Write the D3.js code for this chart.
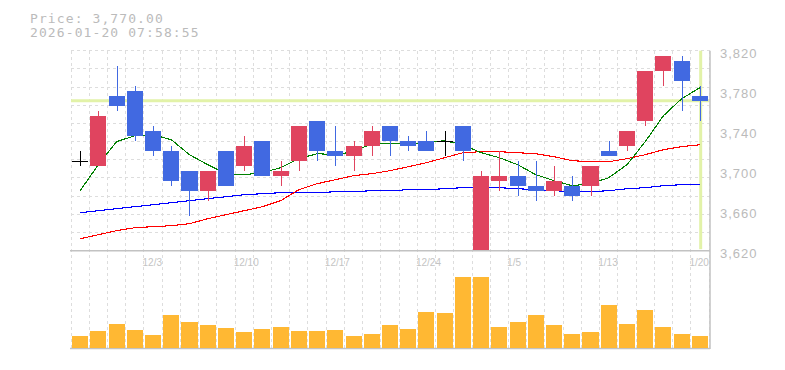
<!DOCTYPE html>
<html>
<head>
<meta charset="utf-8">
<script src="https://cdn.jsdelivr.net/npm/d3@7"></script>
<style>
  body { margin: 0; background: #fff; }
  svg { display: block; font-family: "DejaVu Sans Mono", monospace; }
</style>
</head>
<body>
<svg id="chart" width="785" height="370"></svg>
<script>
// trading days shown on the chart
const dates = ["11/27","11/28","12/1","12/2","12/3","12/4","12/5","12/8","12/9","12/10",
  "12/11","12/12","12/15","12/16","12/17","12/18","12/19","12/22","12/23","12/24",
  "12/25","12/26","12/29","12/30","1/5","1/6","1/7","1/8","1/9","1/13",
  "1/14","1/15","1/16","1/19","1/20"];

const openPrices  = [3710,3705,3775,3780,3740,3720,3700,3680,3720,3705,3730,3695,3710,3750,3720,3715,3725,3745,3730,3730,3730,3745,3610,3690,3695,3685,3680,3685,3685,3720,3725,3750,3800,3810,3775];
const highPrices  = [3720,3760,3805,3785,3745,3725,3700,3700,3720,3735,3730,3710,3745,3750,3745,3730,3745,3745,3735,3740,3740,3745,3700,3720,3710,3710,3705,3695,3705,3730,3740,3800,3815,3815,3785];
const lowPrices   = [3705,3705,3760,3730,3715,3685,3655,3670,3685,3700,3695,3685,3700,3710,3705,3700,3715,3715,3720,3720,3715,3710,3605,3680,3675,3670,3675,3670,3675,3715,3720,3745,3785,3760,3750];
const closePrices = [3710,3755,3765,3735,3720,3690,3680,3700,3685,3725,3695,3700,3745,3720,3715,3725,3740,3730,3725,3720,3730,3720,3695,3695,3685,3680,3690,3675,3705,3715,3740,3800,3815,3790,3770];

// moving averages (short / mid / long)
const ma5  = [3680,3706,3729,3735,3736,3731,3716,3706,3697,3696,3698,3703,3712,3717,3716,3719,3727,3727,3727,3728,3730,3726,3718,3713,3706,3696,3690,3685,3687,3693,3706,3729,3755,3772,3783];
const ma25 = [3632,3636,3640,3643,3644,3645,3647,3652,3656,3660,3664,3670,3681,3687,3691,3695,3697,3700,3704,3708,3713,3718,3719,3719,3718,3717,3714,3710,3709,3709,3712,3716,3721,3724,3726];
const ma75 = [3658,3660,3662,3664,3666,3668,3670,3672,3674,3676,3677,3678,3678,3678,3679,3679,3680,3680,3681,3681,3682,3683,3683,3683,3682,3681,3680,3679,3679,3680,3682,3683,3685,3686,3686];

const volumes = [12,17,24,18,13,33,26,23,20,16,19,21,17,17,18,12,14,23,19,36,35,71,71,21,26,33,23,14,16,43,24,38,21,14,12];

const priceTicks = [3620,3660,3700,3740,3780,3820];
const dateTicks = ["12/3","12/10","12/17","12/24","1/5","1/13","1/20"];
const lastPrice = 3770;
const stamp = "2026-01-20 07:58:55";

const left = 71, right = 709;
const priceTop = 50.7, priceBottom = 250.7;
const volTop = 262, volBottom = 348;

const svg = d3.select("#chart");

const xScale = d3.scaleBand()
  .domain(dates)
  .range([left, right])
  .paddingInner(0.12)
  .paddingOuter(0.06);
const bw = xScale.bandwidth();
const step = xScale.step();
const cx = d => xScale(d) + bw / 2;

const yScale = d3.scaleLinear().domain([3620, 3820]).range([priceBottom, priceTop]);
const vScale = d3.scaleLinear().domain([0, 86]).range([volBottom, volTop]);

// title text top left
const title = svg.append("g").attr("fill", "#bbb").style("font-size", "13px").style("letter-spacing", "1.1px");
title.append("text").attr("x", 30).attr("y", 22.7).text("Price: " + d3.format(",.2f")(lastPrice));
title.append("text").attr("x", 30).attr("y", 37.4).text(stamp);

// grid - square-ish dashed grid, 11 rows in price panel
const grid = svg.append("g").attr("stroke", "#ddd").attr("stroke-dasharray", "3,3").attr("shape-rendering", "crispEdges");
d3.range(0, 11).forEach(k => {
  const y = yScale(3820 - k * 200 / 11);
  grid.append("line").attr("x1", left).attr("x2", right + 1).attr("y1", y).attr("y2", y);
});
dates.forEach(d => {
  const x = cx(d) - step / 2;
  grid.append("line").attr("x1", x).attr("x2", x).attr("y1", priceTop).attr("y2", volBottom);
});
grid.append("line").attr("x1", cx(dates[dates.length - 1]) + step / 2).attr("x2", cx(dates[dates.length - 1]) + step / 2)
  .attr("y1", priceTop).attr("y2", volBottom);

// current price line + marker for last day
svg.append("line")
  .attr("x1", left).attr("x2", right).attr("y1", yScale(lastPrice)).attr("y2", yScale(lastPrice))
  .attr("stroke", "#e2f2a8").attr("stroke-width", 3);
svg.append("line")
  .attr("x1", cx(dates[dates.length - 1]) + 0.8).attr("x2", cx(dates[dates.length - 1]) + 0.8)
  .attr("y1", priceTop).attr("y2", priceBottom - 1.5)
  .attr("stroke", "#e2f2a8").attr("stroke-width", 3);

svg.append("clipPath").attr("id", "priceClip")
  .append("rect").attr("x", left).attr("y", priceTop).attr("width", right - left).attr("height", priceBottom - priceTop);
const plot = svg.append("g").attr("clip-path", "url(#priceClip)");

// moving averages (drawn under candles)
const maLine = d3.line().x((v, i) => cx(dates[i])).y(v => yScale(v));
[[ma75, "#0000ff"], [ma25, "#ff0000"], [ma5, "#008000"]].forEach(([arr, col]) => {
  plot.append("path").datum(arr).attr("d", maLine).attr("fill", "none").attr("stroke", col)
    .attr("stroke-width", 1.1).attr("shape-rendering", "crispEdges");
});

// candles
const upCol = "#e0445f", downCol = "#4169e1";
const colorOf = i => closePrices[i] > openPrices[i] ? upCol : (closePrices[i] < openPrices[i] ? downCol : "#000");

const candles = plot.selectAll(".candle")
  .data(dates)
  .join("g")
  .attr("class", "candle")
  .attr("shape-rendering", "crispEdges");

candles.append("line")
  .attr("x1", d => Math.round(cx(d)) + 0.5).attr("x2", d => Math.round(cx(d)) + 0.5)
  .attr("y1", (d, i) => yScale(highPrices[i])).attr("y2", (d, i) => yScale(lowPrices[i]))
  .attr("stroke", (d, i) => colorOf(i));

candles.append("rect")
  .attr("x", d => xScale(d))
  .attr("width", bw)
  .attr("y", (d, i) => yScale(Math.max(openPrices[i], closePrices[i])))
  .attr("height", (d, i) => Math.max(1.5, Math.abs(yScale(openPrices[i]) - yScale(closePrices[i]))))
  .attr("fill", (d, i) => colorOf(i));

// axes lines
const axisCol = "#c2c2c2";
svg.append("line").attr("x1", left - 1).attr("x2", right + 1).attr("y1", priceBottom).attr("y2", priceBottom).attr("stroke", axisCol).attr("stroke-width", 1.5);
svg.append("line").attr("x1", left - 1).attr("x2", right + 1).attr("y1", volBottom + 0.5).attr("y2", volBottom + 0.5).attr("stroke", axisCol).attr("stroke-width", 1.5);
svg.append("line").attr("x1", right + 1).attr("x2", right + 1).attr("y1", priceTop).attr("y2", volBottom + 1).attr("stroke", axisCol).attr("stroke-width", 1.5);

// volume bars
svg.selectAll(".vol")
  .data(volumes)
  .join("rect")
  .attr("class", "vol")
  .attr("x", (v, i) => xScale(dates[i]))
  .attr("width", bw)
  .attr("y", v => vScale(v))
  .attr("height", v => volBottom - vScale(v))
  .attr("fill", "#ffb833")
  .attr("shape-rendering", "crispEdges");

// price axis on the right
const yAxis = d3.axisRight(yScale).tickValues(priceTicks).tickSize(0).tickPadding(10).tickFormat(d3.format(","));
const yg = svg.append("g").attr("transform", `translate(${right + 1},0)`).call(yAxis);
yg.select(".domain").remove();
yg.selectAll("text").attr("fill", "#bbb").attr("dy", "0.5em").style("font-size", "13px").style("letter-spacing", "1px")
  .attr("font-family", null);

// date labels
const xAxis = d3.axisBottom(d3.scalePoint().domain(dates).range([cx(dates[0]), cx(dates[dates.length - 1])]))
  .tickValues(dateTicks).tickSize(0);
const xg = svg.append("g").attr("transform", `translate(0,${priceBottom})`).call(xAxis);
xg.select(".domain").remove();
xg.selectAll("text").attr("fill", "#c4c4c4").attr("text-anchor", "start").attr("x", -11).attr("y", 15.3).attr("dy", null)
  .style("font-size", "10px").attr("font-family", null);
</script>
</body>
</html>
